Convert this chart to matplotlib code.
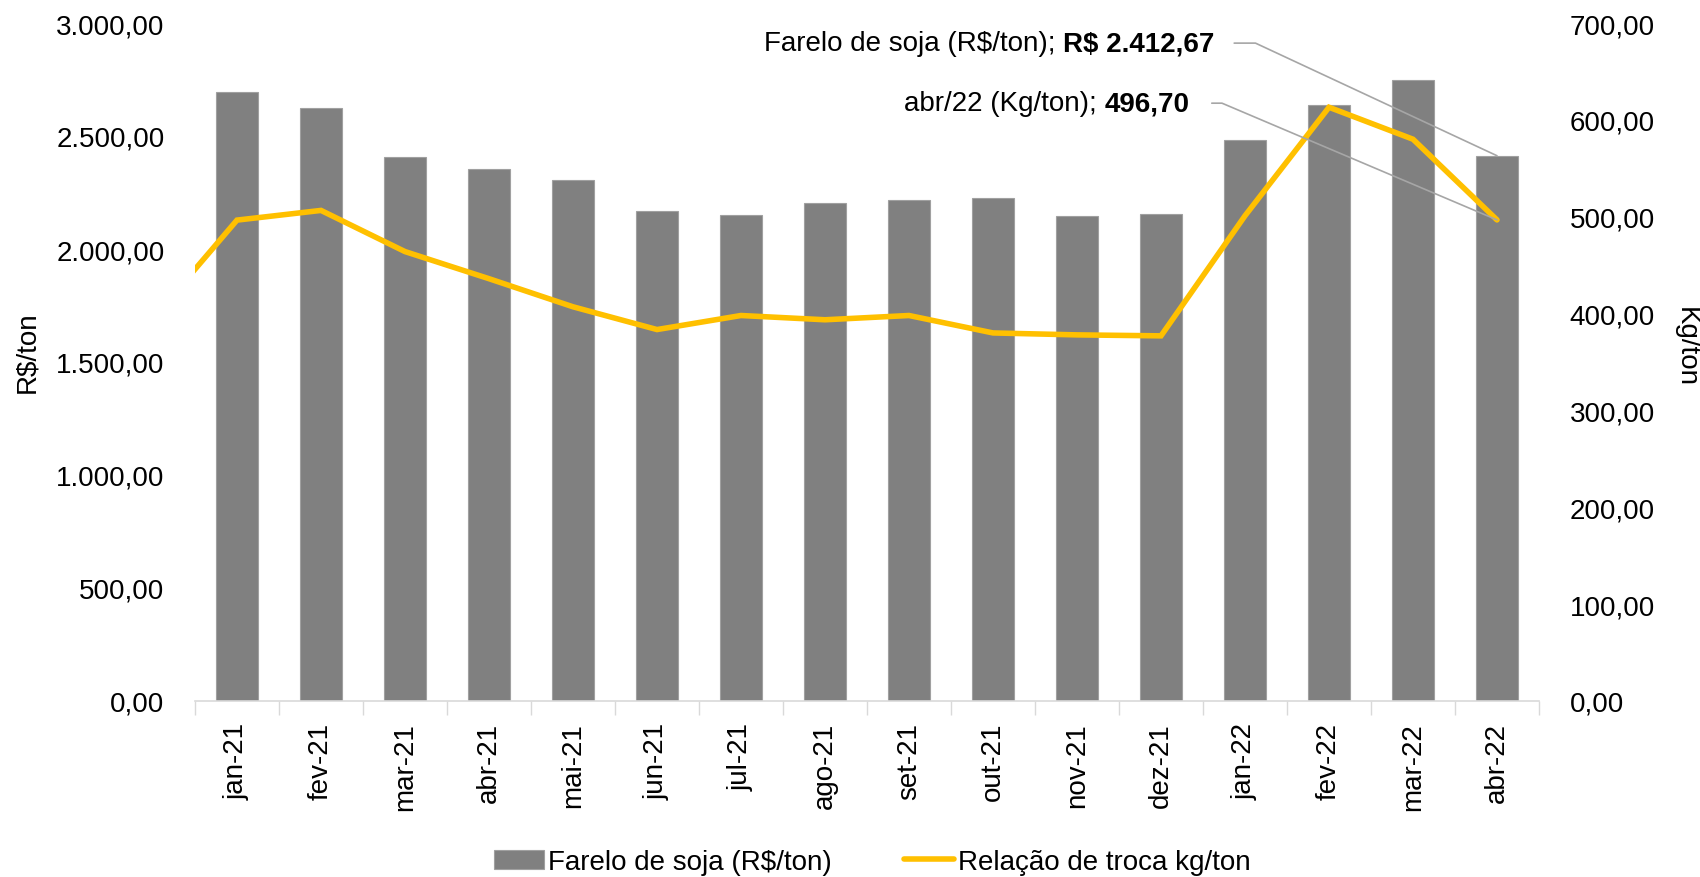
import matplotlib
matplotlib.use("Agg")
import matplotlib.pyplot as plt
import numpy as np

# data
months = ["jan-21", "fev-21", "mar-21", "abr-21", "mai-21", "jun-21", "jul-21", "ago-21",
          "set-21", "out-21", "nov-21", "dez-21", "jan-22", "fev-22", "mar-22", "abr-22"]
farelo = [2693, 2626, 2406, 2353, 2305, 2166, 2152, 2204,
          2219, 2224, 2147, 2157, 2482, 2636, 2746, 2412.67]
# first value is dez-20, only partly visible at the left edge
troca_prev = 395
troca = [496.5, 506.5, 464, 436, 407, 383.5, 398, 393.6,
         398, 380, 378, 377, 501, 613, 580, 496.7]

plt.rcParams['font.family'] = ['Liberation Sans', 'DejaVu Sans']
FS = 20


def br(v, pos=None):
    s = f"{v:,.2f}"
    return s.replace(",", "X").replace(".", ",").replace("X", ".")


fig = plt.figure(figsize=(17, 8.78), dpi=100)
ax = fig.add_axes([195 / 1700, 1 - 702 / 878, (1539 - 195) / 1700, (702 - 24) / 878])
x = np.arange(len(months))

ax.bar(x, farelo, width=0.5, color="#808080", edgecolor="#A0A0A0", linewidth=0.8,
       label="Farelo de soja (R$/ton)", zorder=2)
ax.set_xlim(-0.5, len(months) - 0.5)
ax.set_ylim(0, 3000)
ax.set_yticks(np.arange(0, 3001, 500))
ax.yaxis.set_major_formatter(plt.FuncFormatter(br))
ax.set_xticks(x)
ax.set_xticklabels(months, rotation=90, fontsize=FS)
ax.set_xticks(np.arange(-0.5, len(months)), minor=True)
ax.tick_params(axis="x", which="major", length=0, pad=15)
ax.tick_params(axis="x", which="minor", length=10, color="#D9D9D9", width=1, direction="out")
ax.tick_params(axis="y", length=0, pad=22, labelsize=FS)
for side in ("left", "right", "top"):
    ax.spines[side].set_visible(False)
ax.spines["bottom"].set_color("#D9D9D9")
ax.spines["bottom"].set_linewidth(1.2)

ax2 = ax.twinx()
ax2.plot(np.arange(-1, len(months)), [troca_prev] + troca, color="#FFC000", lw=4,
         solid_joinstyle="miter", solid_capstyle="round",
         label="Relação de troca kg/ton", zorder=3)
ax2.set_ylim(0, 700)
ax2.set_yticks(np.arange(0, 701, 100))
ax2.yaxis.set_major_formatter(plt.FuncFormatter(br))
ax2.tick_params(axis="y", length=0, pad=22, labelsize=FS)
for side in ("left", "right", "top", "bottom"):
    ax2.spines[side].set_visible(False)
ax2.set_xlim(-0.5, len(months) - 0.5)

fig.text(27 / 1700, 1 - 352 / 878, "R$/ton", rotation=90, ha="center", va="center", fontsize=FS)
fig.text(1686 / 1700, 1 - 347 / 878, "Kg/ton", rotation=270, ha="center", va="center", fontsize=FS)

# data labels with leader lines
last = len(months) - 1
lead = dict(arrowstyle="-", color="#A6A6A6", lw=1.2, relpos=(1, 0.5), shrinkA=12, shrinkB=0)
b1 = ax.annotate(f"R$ {br(farelo[-1])}", xy=(last, farelo[-1]), xytext=(11.64, 2880),
                 ha="right", va="baseline", fontsize=FS, fontweight="bold", zorder=5,
                 arrowprops=dict(lead, connectionstyle="angle,angleA=0,angleB=-25"))
b2 = ax2.annotate(br(troca[-1]), xy=(last, troca[-1]), xytext=(11.34, 610),
                  ha="right", va="baseline", fontsize=FS, fontweight="bold", zorder=5,
                  arrowprops=dict(lead, shrinkA=14,
                                  connectionstyle="angle,angleA=0,angleB=-23"))

fig.canvas.draw()
W, H = fig.get_size_inches() * fig.dpi
for bold, axis, pos, txt in ((b1, ax, (11.64, 2880), "Farelo de soja (R$/ton); "),
                             (b2, ax2, (11.34, 610), "abr/22 (Kg/ton); ")):
    bb = bold.get_window_extent()
    yb = axis.transData.transform(pos)[1]
    fig.text(bb.x0 / W, yb / H, txt, ha="right", va="baseline", fontsize=FS)

h1, l1 = ax.get_legend_handles_labels()
h2, l2 = ax2.get_legend_handles_labels()
fig.legend(h1 + h2, l1 + l2, loc="center", bbox_to_anchor=(0.513, 1 - 863 / 878), ncol=2,
           frameon=False, fontsize=FS, handlelength=1.8, handletextpad=0.15, columnspacing=2.6)

fig.savefig("out.png", dpi=100)
